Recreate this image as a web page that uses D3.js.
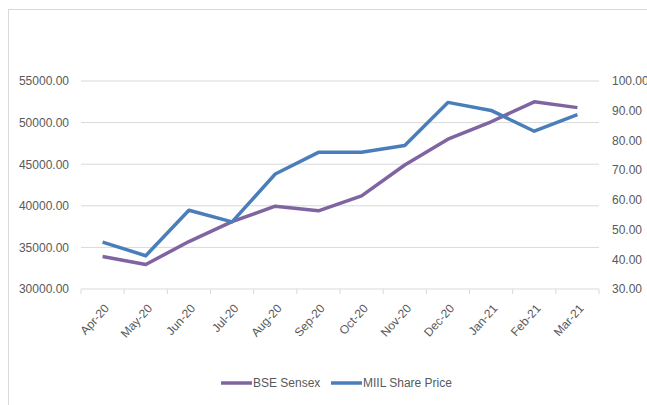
<!DOCTYPE html>
<html>
<head>
<meta charset="utf-8">
<script src="https://cdn.jsdelivr.net/npm/d3@7"></script>
<style>
  body { margin: 0; background: #fff; }
  svg text { font-family: "Liberation Sans", Arial, sans-serif; fill: #595959; }
</style>
</head>
<body>
<div id="graph"></div>
<script>
// months on the x axis
var months = ['Apr-20', 'May-20', 'Jun-20', 'Jul-20', 'Aug-20', 'Sep-20',
              'Oct-20', 'Nov-20', 'Dec-20', 'Jan-21', 'Feb-21', 'Mar-21'];
// left axis series
var sensex = [33900, 32950, 35700, 38100, 39950, 39400, 41200, 44900, 48000, 50100, 52500, 51800];
// right axis series
var miil = [45.8, 41.2, 56.5, 52.6, 68.7, 76.0, 76.0, 78.3, 92.8, 90.1, 83.1, 88.7];
var leftTicks = [30000, 35000, 40000, 45000, 50000, 55000];
var rightTicks = [30, 40, 50, 60, 70, 80, 90, 100];
var seriesNames = ['BSE Sensex', 'MIIL Share Price'];

var purple = '#8064a2',
    blue = '#4a7ebb';

var width = 647, height = 405;
var plotLeft = 81, plotRight = 599, plotTop = 81, plotBottom = 289;

var svg = d3.select('#graph')
    .append('svg')
        .attr('width', width)
        .attr('height', height);

// chart border
svg.append('rect')
    .attr('x', 8.5).attr('y', 9.5)
    .attr('width', 660).attr('height', 420)
    .attr('fill', 'none')
    .attr('stroke', '#d9d9d9');

var x = d3.scaleBand()
    .domain(months)
    .range([plotLeft, plotRight]);

var yL = d3.scaleLinear()
    .domain([30000, 55000])
    .range([plotBottom, plotTop]);

var yR = d3.scaleLinear()
    .domain([30, 100])
    .range([plotBottom, plotTop]);

// gridlines
svg.append('g')
    .selectAll('line')
    .data(leftTicks.slice(1))
    .join('line')
        .attr('x1', plotLeft).attr('x2', plotRight)
        .attr('y1', function(d) { return yL(d); })
        .attr('y2', function(d) { return yL(d); })
        .attr('stroke', '#d9d9d9')
        .attr('stroke-width', 1);

// left axis
var axL = svg.append('g')
    .attr('transform', 'translate(' + (plotLeft - 12) + ',0)')
    .call(d3.axisLeft(yL).tickValues(leftTicks).tickSize(0).tickFormat(d3.format('.2f')));
axL.select('.domain').remove();
axL.selectAll('text').attr('font-size', 12).attr('x', 0);

// right axis
var axR = svg.append('g')
    .attr('transform', 'translate(' + (plotRight + 13) + ',0)')
    .call(d3.axisRight(yR).tickValues(rightTicks).tickSize(0).tickFormat(d3.format('.2f')));
axR.select('.domain').remove();
axR.selectAll('text').attr('font-size', 12).attr('x', 0);

// bottom axis
svg.append('line')
    .attr('x1', plotLeft).attr('x2', plotRight)
    .attr('y1', plotBottom).attr('y2', plotBottom)
    .attr('stroke', '#d9d9d9');
svg.append('g')
    .selectAll('line')
    .data(d3.range(months.length + 1))
    .join('line')
        .attr('x1', function(i) { return plotLeft + i * x.step(); })
        .attr('x2', function(i) { return plotLeft + i * x.step(); })
        .attr('y1', plotBottom).attr('y2', plotBottom + 5)
        .attr('stroke', '#d9d9d9');

svg.append('g')
    .selectAll('text')
    .data(months)
    .join('text')
        .attr('transform', function(d) {
            return 'translate(' + (x(d) + x.bandwidth() / 2 + 4) + ',' + (plotBottom + 17) + ') rotate(-48)';
        })
        .attr('text-anchor', 'end')
        .attr('dy', '0.35em')
        .attr('font-size', 12)
        .text(function(d) { return d; });

var cx = function(d, i) { return x(months[i]) + x.bandwidth() / 2; };

svg.append('path')
    .datum(sensex)
    .attr('fill', 'none')
    .attr('stroke', purple)
    .attr('stroke-width', 3.5)
    .attr('stroke-linejoin', 'round')
    .attr('d', d3.line().x(cx).y(function(d) { return yL(d); }));

svg.append('path')
    .datum(miil)
    .attr('fill', 'none')
    .attr('stroke', blue)
    .attr('stroke-width', 3.5)
    .attr('stroke-linejoin', 'round')
    .attr('d', d3.line().x(cx).y(function(d) { return yR(d); }));

// legend
var legend = svg.append('g');
var legendX = [221, 331];
var legendColors = [purple, blue];
seriesNames.forEach(function(name, i) {
    legend.append('line')
        .attr('x1', legendX[i]).attr('x2', legendX[i] + 31)
        .attr('y1', 383).attr('y2', 383)
        .attr('stroke', legendColors[i])
        .attr('stroke-width', 3.5);
    legend.append('text')
        .attr('x', legendX[i] + 32)
        .attr('y', 383)
        .attr('dy', '0.35em')
        .attr('font-size', 12)
        .attr('font-family', '"DejaVu Sans Condensed", "Liberation Sans", sans-serif')
        .attr('font-stretch', 'condensed')
        .text(name);
});
</script>
</body>
</html>
